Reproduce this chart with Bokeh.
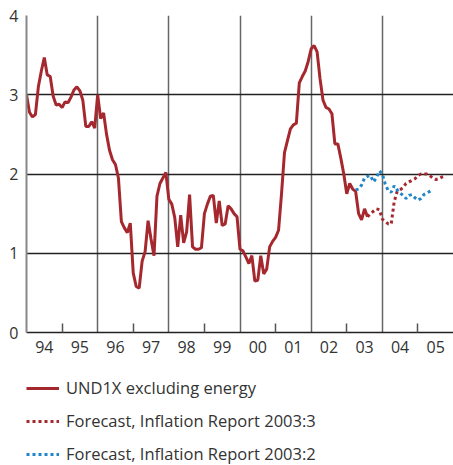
from bokeh.plotting import figure
from bokeh.layouts import column
from bokeh.models import FixedTicker, Legend, LegendItem, Range1d
from bokeh.embed import file_html
from bokeh.resources import INLINE

# UND1X excluding energy, monthly from Jan 1994
und1x = [3.00, 2.78, 2.72, 2.75, 3.10, 3.30, 3.47, 3.25, 3.23, 2.98, 2.87, 2.88,
         2.84, 2.91, 2.90, 2.97, 3.06, 3.10, 3.05, 2.93, 2.60, 2.60, 2.66, 2.58,
         3.00, 2.70, 2.77, 2.50, 2.30, 2.18, 2.12, 1.95, 1.40, 1.32, 1.26, 1.38,
         0.75, 0.58, 0.56, 0.90, 1.02, 1.41, 1.18, 0.97, 1.72, 1.88, 1.95, 2.02,
         1.68, 1.62, 1.45, 1.08, 1.48, 1.13, 1.27, 1.74, 1.08, 1.05, 1.05, 1.07,
         1.50, 1.62, 1.72, 1.73, 1.38, 1.66, 1.35, 1.37, 1.60, 1.56, 1.50, 1.46,
         1.05, 1.03, 0.95, 0.87, 0.97, 0.65, 0.66, 0.97, 0.74, 0.80, 1.08, 1.15,
         1.20, 1.29, 1.75, 2.27, 2.42, 2.57, 2.62, 2.64, 3.15, 3.23, 3.30, 3.42,
         3.58, 3.62, 3.54, 3.20, 2.93, 2.84, 2.82, 2.76, 2.38, 2.38, 2.20, 2.00,
         1.75, 1.88, 1.81, 1.78, 1.50, 1.42, 1.56, 1.46]
und1x_start_month = 0

# Forecast, Inflation Report 2003:3 (starts Aug 2003)
fc3 = [1.46, 1.50, 1.53, 1.56, 1.55, 1.43, 1.40, 1.37, 1.37, 1.65, 1.78, 1.80,
       1.83, 1.88, 1.90, 1.92, 1.94, 1.98, 2.00, 2.00, 2.00, 1.98, 1.95, 1.93,
       1.94, 1.96, 1.97]
fc3_start_month = 115

# Forecast, Inflation Report 2003:2 (starts Apr 2003)
fc2 = [1.80, 1.81, 1.86, 1.95, 1.97, 1.98, 1.90, 1.95, 2.04, 2.00, 1.87, 1.79,
       1.77, 1.85, 1.80, 1.76, 1.73, 1.69, 1.73, 1.74, 1.70, 1.67, 1.69, 1.74,
       1.76, 1.78, 1.80]
fc2_start_month = 111

series_labels = ["UND1X excluding energy",
                 "Forecast, Inflation Report 2003:3",
                 "Forecast, Inflation Report 2003:2"]
year_labels = ["94", "95", "96", "97", "98", "99", "00", "01", "02", "03", "04", "05"]
first_year = 1994
y_ticks = [0, 1, 2, 3, 4]

def months_to_x(start, n):
    return [first_year + (start + i) / 12.0 for i in range(n)]

RED = "#a6282f"
BLUE = "#1f86c9"
TXT = "#333333"
FONT = "Open Sans"
W = 453

p = figure(width=W, height=365, x_range=(1994, 2006), y_range=(0, 4),
           output_backend="svg", toolbar_location=None,
           min_border_left=26, min_border_right=0, min_border_top=15,
           min_border_bottom=33)
p.outline_line_color = None
p.background_fill_color = "white"
p.border_fill_color = "white"

label_pos = [first_year + i + 0.5 for i in range(len(year_labels))]
odd_years = [first_year + i for i in range(1, len(year_labels) + 1, 2)]
even_years = [first_year + i for i in range(2, len(year_labels), 2)]

p.xaxis.ticker = FixedTicker(ticks=label_pos, minor_ticks=odd_years)
p.xaxis.major_label_overrides = {pos: lab for pos, lab in zip(label_pos, year_labels)}
p.xaxis.major_tick_in = 0
p.xaxis.major_tick_out = 0
p.xaxis.minor_tick_in = 9
p.xaxis.minor_tick_out = 0
p.xaxis.minor_tick_line_color = "#555555"
p.xaxis.minor_tick_line_width = 1.5
p.xaxis.axis_line_color = "#222222"
p.xaxis.axis_line_width = 1.5
p.xaxis.major_label_text_font = FONT
p.xaxis.major_label_text_font_size = "16px"
p.xaxis.major_label_text_color = TXT
p.xaxis.major_label_standoff = 8

p.yaxis.ticker = FixedTicker(ticks=y_ticks)
p.yaxis.major_tick_in = 0
p.yaxis.major_tick_out = 0
p.yaxis.minor_tick_line_color = None
p.yaxis.axis_line_color = "#888888"
p.yaxis.axis_line_width = 2
p.yaxis.major_label_text_font = FONT
p.yaxis.major_label_text_font_size = "16px"
p.yaxis.major_label_text_color = TXT
p.yaxis.major_label_standoff = 8

p.xgrid.ticker = FixedTicker(ticks=even_years)
p.xgrid.grid_line_color = "#666666"
p.xgrid.grid_line_width = 1.5
p.ygrid.ticker = FixedTicker(ticks=y_ticks[1:])
p.ygrid.grid_line_color = "#222222"
p.ygrid.grid_line_width = 1.5

styles = [dict(line_color=RED, line_width=3),
          dict(line_color=RED, line_width=3, line_dash="3 3"),
          dict(line_color=BLUE, line_width=3, line_dash="3 3")]

p.line(months_to_x(und1x_start_month, len(und1x)), und1x, **styles[0])
p.line(months_to_x(fc3_start_month, len(fc3)), fc3, **styles[1])
p.line(months_to_x(fc2_start_month, len(fc2)), fc2, **styles[2])

# Legend panel (legend-only lines hold a single NaN so nothing is drawn)
pl = figure(width=W, height=100, x_range=Range1d(0, 1), y_range=Range1d(0, 1),
            output_backend="svg", toolbar_location=None,
            x_axis_type=None, y_axis_type=None,
            min_border_left=0, min_border_right=0, min_border_top=0,
            min_border_bottom=0)
pl.outline_line_color = None
pl.xgrid.visible = False
pl.ygrid.visible = False
nan = float("nan")
items = []
for lab, st in zip(series_labels, styles):
    r = pl.line([nan], [nan], **st)
    items.append(LegendItem(label=lab, renderers=[r]))

legend = Legend(items=items, location=(0, 0), orientation="vertical",
                glyph_width=33, glyph_height=20, label_height=20, label_standoff=7,
                spacing=10, padding=0, margin=0, border_line_color=None,
                background_fill_alpha=0, label_text_font=FONT,
                label_text_font_size="16.5px", label_text_color=TXT)
pl.add_layout(legend, "center")

layout = column(p, pl, spacing=0)
open("out.html", "w").write(file_html(layout, INLINE))
